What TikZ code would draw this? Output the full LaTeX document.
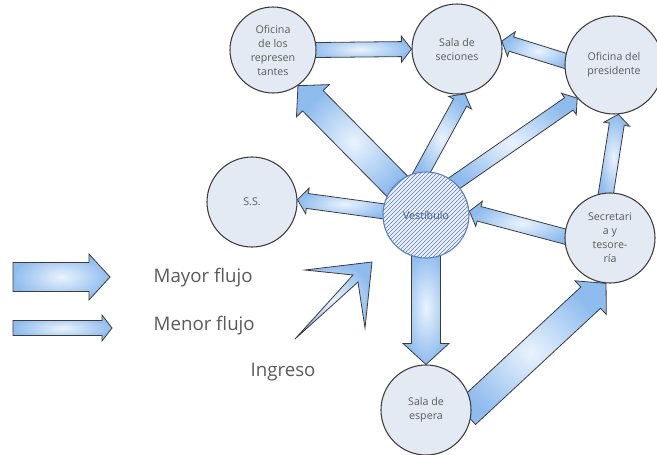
\documentclass[tikz,border=0pt]{standalone}
\usepackage{fontspec}
\setmainfont{Open Sans}
\usepackage{tikz}
\usetikzlibrary{calc, patterns, backgrounds}
\definecolor{azul}{HTML}{8FBCEE}
\definecolor{azulclaro}{HTML}{EAF3FD}
\definecolor{salafill}{HTML}{E4EAF4}
\definecolor{borde}{HTML}{3C3C3C}
\definecolor{rayado}{HTML}{5B7CC4}
\definecolor{rayadofill}{HTML}{EEF3FB}
\definecolor{textgray}{HTML}{5A5A5A}

\newcommand{\flujo}[5]{%
  \path[flujobox] let \p1=#1, \p2=#2, \n1={atan2(\y2-\y1,\x2-\x1)}, \n2={veclen(\x2-\x1,\y2-\y1)} in
    ([shift={(\p1)},rotate=\n1]-6pt,{#3/2}) -- ([shift={(\p1)},rotate=\n1]{\n2-#5},{#3/2})
    -- ([shift={(\p1)},rotate=\n1]{\n2-#5},{#4/2}) -- (\p2)
    -- ([shift={(\p1)},rotate=\n1]{\n2-#5},{-#4/2}) -- ([shift={(\p1)},rotate=\n1]{\n2-#5},{-#3/2})
    -- ([shift={(\p1)},rotate=\n1]-6pt,{-#3/2}) -- cycle;
}
\newcommand{\flujomayor}[2]{\flujo{#1}{#2}{21.75pt}{34.5pt}{15.75pt}}
\newcommand{\flujomenor}[2]{\flujo{#1}{#2}{11.25pt}{19.5pt}{7.5pt}}

\begin{document}
\begin{tikzpicture}[
  x=0.75pt, y=-0.75pt,
  sala/.style={circle, draw=borde, line width=0.8pt, fill=salafill, minimum size=67.5pt, inner sep=0pt, align=center, font=\fontsize{8}{10.5}\selectfont, text=textgray},
  vestibulo/.style={sala, draw=rayado, fill=rayadofill, text=rayado!70!black, postaction={pattern=north east lines, pattern color=rayado}},
  flujobox/.style={draw=borde, line width=0.6pt, inner color=azulclaro, outer color=azul},
  leyenda/.style={font=\fontsize{14}{16}\selectfont, text=textgray},
]
\useasboundingbox (0,0) rectangle (657,454);

\node[sala, minimum size=64.5pt] (rep) at (273,50) {Oficina\\de los\\represen\\tantes};
\node[sala] (ses) at (457,49) {Sala de\\seciones};
\node[sala, minimum size=73.5pt] (pres) at (614,65) {Oficina del\\presidente};
\node[sala] (ss) at (252,202) {S.S.};
\node[vestibulo, minimum size=64.5pt] (vest) at (426,215) {Vestíbulo};
\node[sala] (sec) at (610,238) {Secretari\\a y\\tesore-\\ría};
\node[sala] (esp) at (426,410) {Sala de\\espera};

\coordinate (mayA) at (21,277);
\coordinate (mayB) at (110,277);
\coordinate (menA) at (21,328);
\coordinate (menB) at (112,328);
\node[leyenda, anchor=west] (mayor) at (149,278) {Mayor flujo};
\node[leyenda, anchor=west] (menor) at (149,326) {Menor flujo};
\node[leyenda, anchor=west] (ingreso) at (246,372) {Ingreso};

\begin{scope}[on background layer]
\flujomenor{(rep.east)}{(ses.west)}
\flujomenor{(pres.175)}{(ses.10)}
\flujomenor{(vest.95)}{(ses.-80)}
\flujomenor{(vest.48)}{(pres.222)}
\flujomenor{(sec.95)}{(pres.-85)}
\flujomenor{(sec.178)}{(vest.5)}
\flujomenor{(vest.175)}{(ss.3)}
\flujomayor{(vest.135)}{(rep.-55)}
\flujomayor{(vest.south)}{(esp.north)}
\flujomayor{(esp.2)}{(sec.265)}
\end{scope}

\flujomayor{(mayA)}{(mayB)}
\flujomenor{(menA)}{(menB)}
\draw[flujobox] (295,339) -- (353,275) -- (305,270) -- (372,262) -- (365,328) -- (358,282) -- cycle;
\end{tikzpicture}
\end{document}
